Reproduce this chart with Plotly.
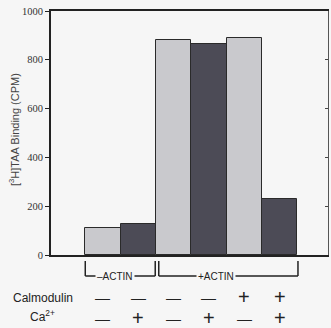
import plotly.graph_objects as go

conditions = ["1", "2", "3", "4", "5", "6"]
binding = [112, 127, 880, 866, 890, 228]
bar_colors = ["#c9c9cd", "#4c4b56", "#c9c9cd", "#4c4b56", "#c9c9cd", "#4c4b56"]
calmodulin = ["—", "—", "—", "—", "+", "+"]
calcium = ["—", "+", "—", "+", "—", "+"]
y_ticks = [0, 200, 400, 600, 800, 1000]

BG = "#f6f6f6"
INK = "#222222"

x_pos = list(range(len(conditions)))

fig = go.Figure()
fig.add_trace(go.Bar(
    x=x_pos, y=binding, width=1.0,
    marker=dict(color=bar_colors, line=dict(color="#2a2a2a", width=1)),
    showlegend=False, hoverinfo="skip",
))
# invisible trace for right axis
fig.add_trace(go.Scatter(x=[x_pos[0]], y=[0], yaxis="y2", mode="markers",
                         marker=dict(opacity=0), showlegend=False, hoverinfo="skip"))

fig.update_layout(
    width=331, height=328,
    margin=dict(l=51, r=3, t=11, b=73),
    paper_bgcolor=BG, plot_bgcolor=BG,
    bargap=0,
    xaxis=dict(range=[-1.47, 6.37], showticklabels=False, ticks="", showgrid=False,
               zeroline=False, showline=True, linecolor=INK, linewidth=2, mirror=True),
    yaxis=dict(range=[0, 1000], tickvals=y_ticks, ticks="outside", ticklen=4,
               tickcolor=INK, tickwidth=1, showgrid=False, zeroline=False,
               showline=True, linecolor=INK, linewidth=2,
               tickfont=dict(family="Liberation Serif", size=10.5, color="#333")),
    yaxis2=dict(range=[0, 1000], tickvals=y_ticks, overlaying="y", side="right",
                ticks="inside", ticklen=3, tickcolor="#444", showticklabels=False,
                showgrid=False, zeroline=False, showline=True, linecolor="#555",
                linewidth=1),
)

def py(px):
    # convert pixel y (from top of image) to paper coordinate
    return 1 - (px - 11) / 244.0

annotations = []
# y axis title
annotations.append(dict(text="[<sup>3</sup>H]TAA Binding (CPM)", textangle=-90,
                        xref="paper", yref="paper", x=(14 - 51) / 277.0, y=py(130),
                        xanchor="center", yanchor="middle",
                        showarrow=False, font=dict(family="Liberation Sans", size=11, color="#444")))

# brackets
shapes = []
top, bot = py(261), py(276)
for (x0, x1, label, xc) in [(-0.5, 1.48, "–ACTIN", 0.35), (1.58, 5.52, "+ACTIN", 3.2)]:
    shapes.append(dict(type="line", xref="x", yref="paper", x0=x0, x1=x0, y0=top, y1=bot,
                       line=dict(color=INK, width=1.5)))
    shapes.append(dict(type="line", xref="x", yref="paper", x0=x1, x1=x1, y0=top, y1=bot,
                       line=dict(color=INK, width=1.5)))
    shapes.append(dict(type="line", xref="x", yref="paper", x0=x0, x1=x1, y0=bot, y1=bot,
                       line=dict(color=INK, width=1.5)))
    annotations.append(dict(text=label, xref="x", yref="paper", x=xc, y=bot,
                            xanchor="center", yanchor="middle",
                            showarrow=False, bgcolor=BG, borderpad=1,
                            font=dict(family="Liberation Sans", size=10, color="#222")))

# row labels
annotations.append(dict(text="Calmodulin", xref="paper", yref="paper", x=(43 - 51) / 277.0,
                        y=py(298), xanchor="center", yanchor="middle", showarrow=False,
                        font=dict(family="Liberation Sans", size=12, color="#222")))
annotations.append(dict(text="Ca<sup>2+</sup>", xref="paper", yref="paper", x=(42 - 51) / 277.0,
                        y=py(316), xanchor="center", yanchor="middle", showarrow=False,
                        font=dict(family="Liberation Sans", size=12, color="#222")))

for i, (c, ca) in enumerate(zip(calmodulin, calcium)):
    for sym, ypx in [(c, 297), (ca, 318)]:
        annotations.append(dict(text=sym, xref="x", yref="paper", x=x_pos[i], y=py(ypx),
                                xanchor="center", yanchor="middle", showarrow=False,
                                font=dict(family="Liberation Sans",
                                          size=15 if sym == "—" else 20, color="#222")))

fig.update_layout(annotations=annotations, shapes=shapes)
fig.write_html("out.html")
